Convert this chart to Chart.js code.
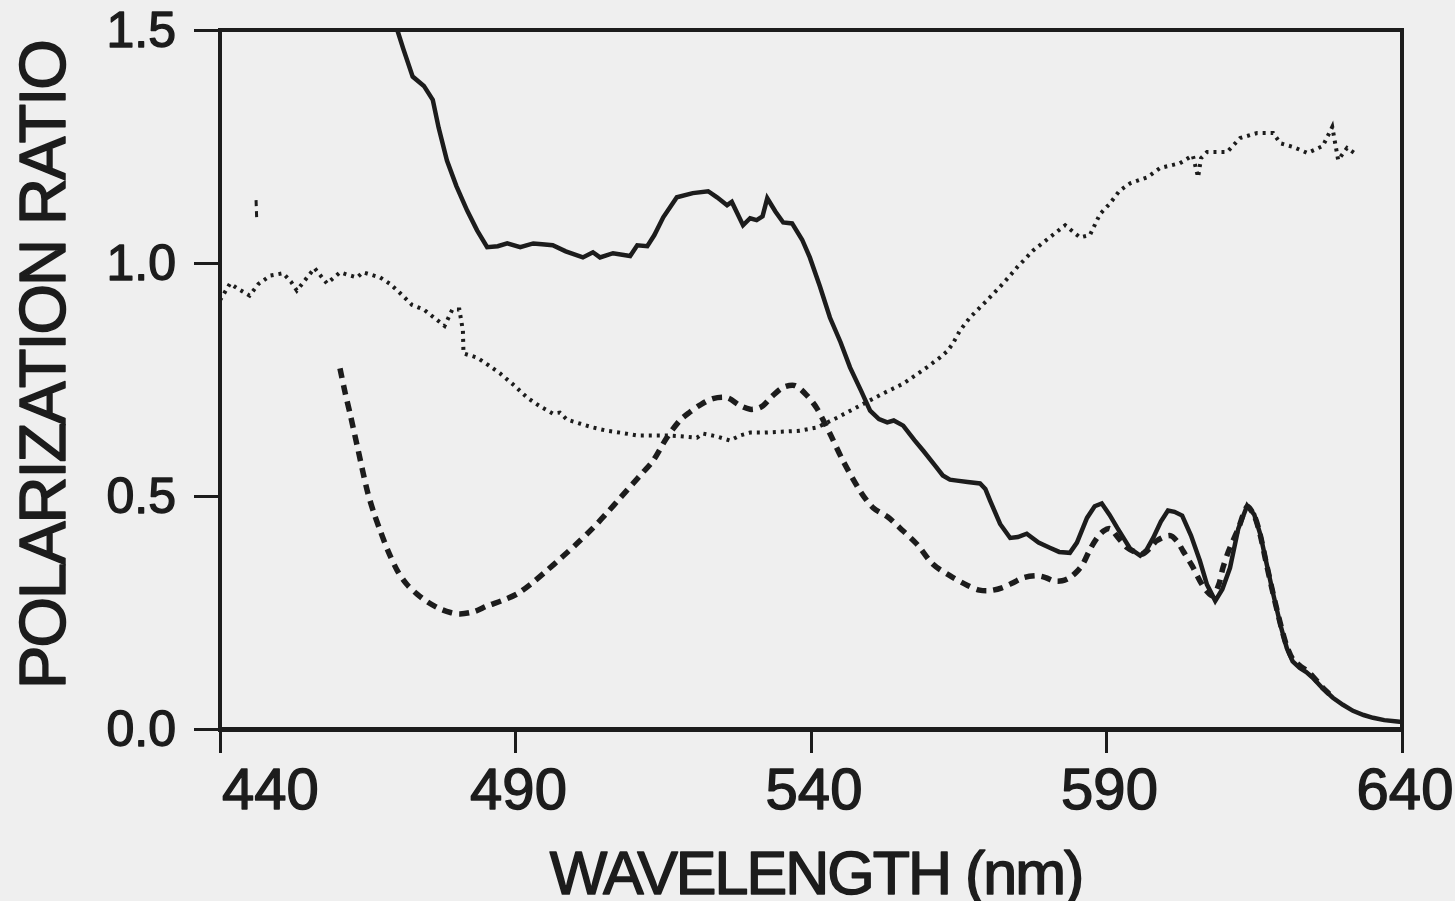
<!DOCTYPE html>
<html>
<head>
<meta charset="utf-8">
<script src="https://cdn.jsdelivr.net/npm/chart.js@4"></script>
<style>
  html, body { margin: 0; padding: 0; background: #efefef; }
  #wrap { width: 1455px; height: 901px; }
</style>
</head>
<body>
<div id="wrap"><canvas id="polChart" width="1455" height="901"></canvas></div>
<script>
// wavelength (nm) / polarization ratio
const solidWl = [470.0, 471.0, 472.6, 474.5, 476.0, 477.0, 478.4, 480.0, 481.8, 483.5, 485.2, 487.0, 488.6, 490.8, 493.0, 494.5, 496.3, 498.5, 501.4, 503.1, 504.3, 506.5, 509.4, 510.6, 512.3, 513.5, 515.0, 517.3, 520.0, 522.6, 524.1, 525.8, 526.6, 528.5, 529.7, 530.8, 531.8, 532.6, 534.0, 535.3, 536.8, 538.5, 539.8, 541.5, 543.2, 545.0, 546.6, 548.5, 550.0, 551.5, 552.9, 554.0, 555.6, 557.5, 559.0, 561.0, 562.3, 563.5, 564.7, 566.5, 568.6, 569.5, 570.3, 572.0, 573.7, 575.0, 576.5, 578.5, 580.4, 582.0, 583.8, 585.0, 586.7, 588.0, 589.2, 590.5, 591.8, 594.0, 595.7, 596.8, 597.9, 599.2, 600.4, 601.5, 602.8, 604.3, 605.8, 607.0, 608.4, 609.6, 610.9, 612.3, 613.8, 615.0, 616.0, 617.0, 618.2, 619.5, 620.5, 621.5, 622.7, 623.8, 624.9, 626.5, 628.3, 630.0, 631.7, 633.5, 635.1, 637.0, 639.2, 640.0];
const solidVal = [1.50, 1.46, 1.40, 1.38, 1.35, 1.29, 1.22, 1.165, 1.113, 1.07, 1.034, 1.036, 1.042, 1.034, 1.042, 1.040, 1.038, 1.025, 1.012, 1.023, 1.012, 1.021, 1.015, 1.038, 1.036, 1.06, 1.098, 1.141, 1.150, 1.154, 1.141, 1.124, 1.131, 1.081, 1.096, 1.092, 1.10, 1.139, 1.11, 1.087, 1.085, 1.05, 1.012, 0.95, 0.883, 0.83, 0.776, 0.725, 0.683, 0.665, 0.658, 0.662, 0.651, 0.62, 0.597, 0.565, 0.544, 0.535, 0.533, 0.530, 0.527, 0.515, 0.49, 0.44, 0.41, 0.412, 0.419, 0.40, 0.389, 0.380, 0.378, 0.40, 0.453, 0.478, 0.484, 0.46, 0.432, 0.387, 0.372, 0.385, 0.41, 0.445, 0.469, 0.466, 0.458, 0.415, 0.361, 0.31, 0.275, 0.30, 0.346, 0.43, 0.479, 0.46, 0.419, 0.36, 0.29, 0.22, 0.174, 0.145, 0.131, 0.122, 0.110, 0.088, 0.067, 0.052, 0.039, 0.030, 0.024, 0.019, 0.016, 0.015];

const dashWl = [460.3, 461.2, 462.0, 463.4, 464.9, 466.0, 467.1, 468.5, 470.0, 471.5, 473.3, 475.2, 477.2, 479.0, 480.6, 483.0, 485.2, 487.8, 490.3, 492.8, 495.3, 497.8, 500.4, 503.0, 505.5, 507.8, 509.9, 511.5, 513.3, 515.6, 517.8, 519.5, 521.2, 523.4, 525.8, 528.0, 529.7, 531.0, 531.9, 533.5, 535.3, 537.3, 539.3, 541.0, 543.2, 545.4, 548.3, 550.5, 553.0, 555.0, 557.9, 560.6, 563.5, 566.5, 568.5, 570.3, 572.3, 574.2, 576.0, 578.2, 579.7, 581.0, 582.5, 583.8, 585.0, 586.0, 587.2, 588.4, 589.5, 590.6, 592.0, 593.5, 594.8, 596.2, 597.5, 598.5, 600.7, 602.0, 602.9, 604.5, 605.8, 607.0, 608.0, 609.0, 609.7, 610.6, 611.4, 612.3, 613.8, 615.0, 616.0, 617.0, 618.2, 619.5, 620.5, 621.5, 622.7, 623.8, 624.9, 626.5, 628.3];
const dashVal = [0.774, 0.72, 0.677, 0.597, 0.512, 0.465, 0.426, 0.38, 0.340, 0.312, 0.290, 0.272, 0.258, 0.250, 0.247, 0.252, 0.264, 0.276, 0.290, 0.313, 0.340, 0.368, 0.398, 0.430, 0.464, 0.497, 0.527, 0.550, 0.576, 0.625, 0.662, 0.680, 0.695, 0.709, 0.711, 0.694, 0.686, 0.688, 0.694, 0.715, 0.733, 0.737, 0.716, 0.688, 0.634, 0.576, 0.511, 0.475, 0.455, 0.432, 0.397, 0.354, 0.329, 0.308, 0.298, 0.297, 0.303, 0.314, 0.325, 0.329, 0.325, 0.318, 0.318, 0.325, 0.338, 0.354, 0.385, 0.41, 0.425, 0.430, 0.41, 0.389, 0.380, 0.376, 0.39, 0.404, 0.415, 0.402, 0.383, 0.35, 0.318, 0.295, 0.286, 0.31, 0.346, 0.38, 0.404, 0.43, 0.477, 0.458, 0.417, 0.358, 0.29, 0.222, 0.178, 0.150, 0.136, 0.126, 0.113, 0.090, 0.068];

const dotWl = [440.0, 441.7, 443.0, 445.0, 446.5, 448.5, 450.7, 452.0, 453.0, 454.5, 456.0, 458.1, 460.3, 461.5, 463.2, 464.2, 465.5, 467.1, 468.8, 470.5, 472.5, 474.5, 476.5, 478.0, 479.3, 480.5, 481.1, 481.2, 483.5, 485.5, 487.4, 489.8, 492.0, 494.2, 496.3, 497.5, 498.7, 501.0, 503.1, 505.5, 507.7, 510.6, 513.0, 515.6, 518.0, 520.7, 521.7, 524.0, 526.3, 528.0, 529.7, 532.0, 535.0, 538.1, 541.0, 544.4, 548.3, 552.2, 555.6, 559.6, 561.8, 563.0, 564.0, 565.2, 566.9, 569.8, 572.5, 574.9, 577.6, 580.4, 583.0, 585.5, 587.2, 588.9, 590.6, 592.2, 594.0, 596.9, 599.1, 602.4, 604.6, 605.5, 606.0, 607.0, 610.4, 612.6, 615.5, 618.2, 619.4, 621.6, 624.0, 626.6, 628.2, 629.2, 630.7, 632.4];
const dotVal = [0.92, 0.956, 0.945, 0.930, 0.955, 0.973, 0.978, 0.96, 0.941, 0.965, 0.989, 0.956, 0.980, 0.975, 0.969, 0.980, 0.975, 0.969, 0.955, 0.935, 0.91, 0.90, 0.88, 0.865, 0.90, 0.90, 0.855, 0.806, 0.797, 0.78, 0.763, 0.737, 0.711, 0.692, 0.677, 0.679, 0.664, 0.655, 0.647, 0.640, 0.636, 0.630, 0.630, 0.630, 0.628, 0.625, 0.634, 0.628, 0.619, 0.630, 0.636, 0.636, 0.638, 0.640, 0.647, 0.668, 0.694, 0.720, 0.741, 0.776, 0.797, 0.81, 0.827, 0.855, 0.883, 0.920, 0.956, 0.991, 1.027, 1.055, 1.081, 1.055, 1.060, 1.105, 1.128, 1.155, 1.171, 1.184, 1.204, 1.214, 1.231, 1.184, 1.225, 1.238, 1.238, 1.268, 1.279, 1.279, 1.257, 1.249, 1.236, 1.251, 1.292, 1.221, 1.247, 1.232];

// small stray mark near 446 nm
const strayWl = [446.1, 446.2];
const strayVal = [1.135, 1.098];

const xTicks = [440, 490, 540, 590, 640];
const yTicks = [0.0, 0.5, 1.0, 1.5];

const ink = '#1c1c1c';
const fontFamily = '"Liberation Sans", Arial, sans-serif';
const toPoints = (xs, ys) => xs.map((x, i) => ({ x: x, y: ys[i] }));

// text drawn a touch heavier, like the printed figure
function heavyText(ctx, text, x, y, weight) {
  ctx.lineWidth = weight;
  ctx.strokeText(text, x, y);
  ctx.fillText(text, x, y);
}

// frame, tick labels and axis titles
const extrasPlugin = {
  id: 'extras',
  afterDraw(chart) {
    const { ctx, chartArea, scales } = chart;
    ctx.save();
    ctx.strokeStyle = ink;
    ctx.lineWidth = 4;
    ctx.beginPath();
    ctx.moveTo(chartArea.left - 2, chartArea.top);
    ctx.lineTo(chartArea.right, chartArea.top);
    ctx.lineTo(chartArea.right, chartArea.bottom + 2);
    ctx.stroke();

    ctx.fillStyle = ink;
    ctx.lineJoin = 'round';

    // x tick labels, the first one starts at its tick
    ctx.font = '58px ' + fontFamily;
    ctx.textBaseline = 'alphabetic';
    xTicks.forEach((v, i) => {
      const px = scales.x.getPixelForValue(v);
      ctx.textAlign = i === 0 ? 'left' : 'center';
      heavyText(ctx, String(v), i === 0 ? px + 2 : px + 3, chartArea.bottom + 80, 1.4);
    });

    // y tick labels
    ctx.font = '50px ' + fontFamily;
    ctx.textAlign = 'right';
    ctx.textBaseline = 'middle';
    yTicks.forEach((v) => {
      const py = scales.y.getPixelForValue(v);
      heavyText(ctx, v.toFixed(1), chartArea.left - 44, py + 3, 1.4);
    });

    ctx.textAlign = 'center';
    ctx.font = '61px ' + fontFamily;
    ctx.letterSpacing = '-2px';
    heavyText(ctx, 'WAVELENGTH (nm)', 816, 877, 1.5);

    ctx.translate(47, 365);
    ctx.rotate(-Math.PI / 2);
    ctx.font = '65px ' + fontFamily;
    heavyText(ctx, 'POLARIZATION RATIO', 0, 0, 1.5);
    ctx.restore();
  }
};

new Chart(document.getElementById('polChart').getContext('2d'), {
  type: 'line',
  data: {
    datasets: [
      {
        label: 'solid',
        data: toPoints(solidWl, solidVal),
        borderColor: ink,
        borderWidth: 4.5,
        pointRadius: 0,
        tension: 0
      },
      {
        label: 'dashed',
        data: toPoints(dashWl, dashVal),
        borderColor: ink,
        borderWidth: 5.5,
        borderDash: [10, 7],
        pointRadius: 0,
        tension: 0.3
      },
      {
        label: 'dotted',
        data: toPoints(dotWl, dotVal),
        borderColor: ink,
        borderWidth: 4,
        borderDash: [3, 5],
        pointRadius: 0,
        tension: 0
      },
      {
        label: 'stray',
        data: toPoints(strayWl, strayVal),
        borderColor: ink,
        borderWidth: 3,
        borderDash: [6, 5],
        pointRadius: 0
      }
    ]
  },
  options: {
    responsive: false,
    animation: false,
    layout: { padding: { top: 30, right: 53, left: 0, bottom: 0 } },
    plugins: {
      legend: { display: false },
      tooltip: { enabled: false }
    },
    scales: {
      x: {
        type: 'linear',
        min: 440,
        max: 640,
        afterBuildTicks: (scale) => { scale.ticks = xTicks.map(v => ({ value: v })); },
        afterFit: (scale) => { scale.height = 172; },
        ticks: { display: false },
        grid: { drawOnChartArea: false, drawTicks: true, tickLength: 24, lineWidth: 3, color: ink },
        border: { display: true, color: ink, width: 5 }
      },
      y: {
        min: 0,
        max: 1.5,
        afterBuildTicks: (scale) => { scale.ticks = yTicks.map(v => ({ value: v })); },
        afterFit: (scale) => { scale.width = 220; scale.paddingTop = 0; scale.paddingBottom = 0; },
        ticks: { display: false },
        grid: { drawOnChartArea: false, drawTicks: true, tickLength: 26, lineWidth: 3, color: ink },
        border: { display: true, color: ink, width: 4 }
      }
    }
  },
  plugins: [extrasPlugin]
});
</script>
</body>
</html>
